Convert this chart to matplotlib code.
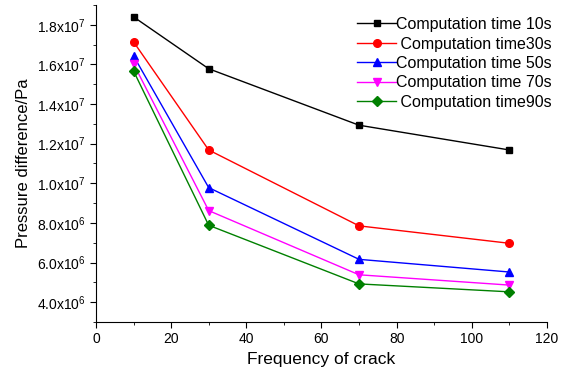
import numpy as np
import matplotlib.pyplot as plt
from matplotlib.ticker import FuncFormatter, MultipleLocator

plt.rcParams['font.family'] = ['Liberation Sans', 'DejaVu Sans']
plt.rcParams['mathtext.fontset'] = 'custom'
plt.rcParams['mathtext.rm'] = 'Liberation Sans'

# crack frequency and pressure difference for each computation time
freq = [10, 30, 70, 110]
p_10s = [1.84e7, 1.578e7, 1.293e7, 1.168e7]
p_30s = [1.714e7, 1.168e7, 7.85e6, 6.97e6]
p_50s = [1.643e7, 9.78e6, 6.16e6, 5.52e6]
p_70s = [1.603e7, 8.62e6, 5.38e6, 4.86e6]
p_90s = [1.567e7, 7.88e6, 4.92e6, 4.52e6]

labels = ['Computation time 10s', ' Computation time30s', 'Computation time 50s',
          'Computation time 70s', ' Computation time90s']
series = [p_10s, p_30s, p_50s, p_70s, p_90s]
colors = ['black', 'red', 'blue', 'magenta', 'green']
markers = ['s', 'o', '^', 'v', 'D']
msizes = [5, 5.5, 6, 6, 5]


def sci_fmt(v, pos):
    if v <= 0:
        return ''
    e = int(np.floor(np.log10(v) + 1e-9))
    m = v / 10 ** e
    return r'$\mathregular{%.1fx10^{%d}}$' % (m, e)


fig = plt.figure(figsize=(5.61, 3.81), dpi=100)
ax = fig.add_axes([0.171, 0.155, 0.804, 0.832])

for ys, c, m, ms, lab in zip(series, colors, markers, msizes, labels):
    ax.plot(freq, ys, color=c, marker=m, markersize=ms, linewidth=1, label=lab)

ax.set_xlim(0, 120)
ax.set_ylim(3.0e6, 1.9e7)
ax.xaxis.set_major_locator(MultipleLocator(20))
ax.xaxis.set_minor_locator(MultipleLocator(10))
ax.yaxis.set_major_locator(MultipleLocator(2e6))
ax.yaxis.set_minor_locator(MultipleLocator(1e6))
ax.yaxis.set_major_formatter(FuncFormatter(sci_fmt))
ax.tick_params(which='both', direction='out', labelsize=10)
ax.tick_params(which='major', length=4)
ax.tick_params(which='minor', length=2.5)
ax.spines['top'].set_visible(False)
ax.spines['right'].set_visible(False)

ax.set_xlabel('Frequency of crack', fontsize=12.5)
ax.set_ylabel('Pressure difference/Pa', fontsize=12)

ax.legend(loc='upper right', bbox_to_anchor=(1.024, 0.982), frameon=False,
          fontsize=11.5, handlelength=2.4, labelspacing=0.28,
          handletextpad=0.0, borderaxespad=0.0)

fig.savefig('out.png', dpi=100)
